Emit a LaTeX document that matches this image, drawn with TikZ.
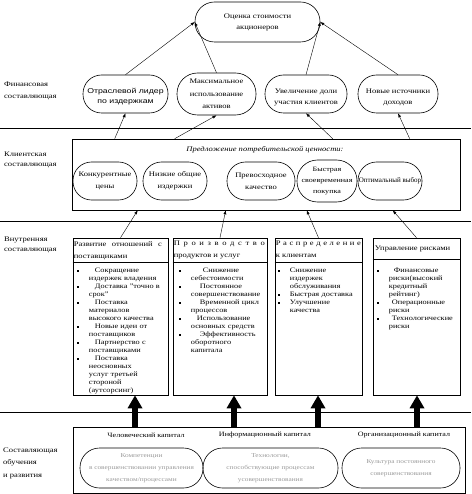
\documentclass[tikz,border=0pt]{standalone}
\usepackage{fontspec}
\setmainfont{Liberation Serif}[FakeStretch=1.22]
\newfontfamily\arialf{Liberation Sans}[FakeStretch=1.25]
\newfontfamily\narrowf{Liberation Serif}
\usetikzlibrary{arrows.meta,calc}
\newcommand\bitem[2][6pt]{\par\noindent\hangindent=15pt\hangafter=1\makebox[15pt][l]{\hspace{3pt}\rule[1pt]{1.7pt}{1.7pt}}\hspace{#1}#2\par}
\begin{document}
\begin{tikzpicture}[x=1pt,y=-1pt,
  txt/.style={inner sep=0pt, align=center, font=\fontsize{7}{11}\selectfont},
  stad/.style={draw, rectangle, rounded corners=#1, inner sep=0pt, line width=0.6pt},
  arr/.style={-{Latex[length=4pt,width=3pt]}, line width=0.4pt},
  big/.style={line width=6pt, -{Triangle[length=13pt,width=14pt]}},
  sepline/.style={line width=0.6pt},
  boxx/.style={draw, line width=0.6pt, inner sep=0pt},
  lbl/.style={inner sep=0pt, align=left, anchor=west, font=\fontsize{7}{11}\selectfont},
  head/.style={inner sep=0pt, align=left, anchor=north west, font=\fontsize{7}{12}\selectfont},
  lst/.style={inner sep=0pt, align=left, anchor=north west, font=\fontsize{6.8}{8}\selectfont},
  gtxt/.style={inner sep=0pt, align=center, text=black!40, font=\fontsize{6}{12}\selectfont},
  captxt/.style={inner sep=0pt, align=center, font=\fontsize{6.6}{8}\selectfont}
]
\useasboundingbox (0,0) rectangle (471,494);

% separator lines
\draw[sepline] (0,128) -- (471,128);
\draw[sepline] (0,221) -- (471,221);
\draw[sepline] (0,412) -- (471,412);

% left labels
\node[lbl, font=\fontsize{7}{12}\selectfont] (lab1) at (4,91) {Финансовая\\составляющая};
\node[lbl, font=\fontsize{7}{10}\selectfont] (lab2) at (4,160) {Клиентская\\составляющая};
\node[lbl, font=\fontsize{7}{10}\selectfont] (lab3) at (4,245) {Внутренняя\\составляющая};
\node[lbl, font=\fontsize{7}{12.5}\selectfont] (lab4) at (3,463) {Составляющая\\обучения\\и развития};

% top
\node[stad=19.5, minimum width=125, minimum height=40] (top) at (257.5,22) {};
\node[txt] (topt) at (top.center) {Оценка стоимости\\акционеров};

% financial
\node[stad=18.5, minimum width=85, minimum height=38] (f1) at (125.5,94) {};
\node[txt, font=\arialf\fontsize{7}{10}\selectfont] (f1t) at (125.5,97) {Отраслевой лидер\\по издержкам};
\node[stad=20.5, minimum width=79, minimum height=42] (f2) at (216.5,94) {};
\node[txt, font=\fontsize{7}{12.5}\selectfont] (f2t) at (f2.center) {Максимальное\\использование\\активов};
\node[stad=18.5, minimum width=82, minimum height=38] (f3) at (306,94) {};
\node[txt] (f3t) at (306,97) {Увеличение доли\\участия клиентов};
\node[stad=18.5, minimum width=80, minimum height=38] (f4) at (398,94) {};
\node[txt] (f4t) at (398,97) {Новые источники\\доходов};

\draw[arr] (f1.north) -- (top.west);
\draw[arr] (f2.north) -- (top.west);
\draw[arr] (f3.north) -- (top.east);
\draw[arr] (f4.north) -- (top.east);

% customer
\node[boxx, minimum width=388, minimum height=71] (cbox) at (266,174.5) {};
\node[txt, font=\itshape\fontsize{7}{9}\selectfont] (cval) at (265,150) {Предложение потребительской ценности:};
\node[stad=18.5, minimum width=64, minimum height=38] (c1) at (105,181) {};
\node[txt, font=\fontsize{7}{12}\selectfont] (c1t) at (c1.center) {Конкурентные\\цены};
\node[stad=18.5, minimum width=64, minimum height=38] (c2) at (175,181) {};
\node[txt, font=\fontsize{7}{12}\selectfont] (c2t) at (c2.center) {Низкие общие\\издержки};
\node[stad=18.5, minimum width=68, minimum height=38] (c3) at (261,181) {};
\node[txt, font=\fontsize{7}{12}\selectfont] (c3t) at (c3.center) {Превосходное\\качество};
\node[stad=20.5, minimum width=60, minimum height=42] (c4) at (327,181) {};
\node[txt, font=\fontsize{6.6}{11}\selectfont] (c4t) at (c4.center) {Быстрая\\своевременная\\покупка};
\node[stad=18.5, minimum width=64, minimum height=38] (c5) at (390,181) {};
\node[txt, font=\narrowf\fontsize{7}{9}\selectfont] (c5t) at (c5.center) {Оптимальный выбор};

\draw[arr] ([xshift=43pt]cbox.north west) -- (f1.south);
\draw[arr] ([xshift=103pt]cbox.north west) -- (f2.south);
\draw[arr] ([xshift=261pt]cbox.north west) -- (f3.south);
\draw[arr] ([xshift=338pt]cbox.north west) -- (f4.south);

% internal boxes
\node[boxx, minimum width=95, minimum height=157] (ib1) at (120.5,316.5) {};
\node[boxx, minimum width=94, minimum height=157] (ib2) at (220,316.5) {};
\node[boxx, minimum width=87, minimum height=157] (ib3) at (318.5,316.5) {};
\node[boxx, minimum width=87, minimum height=157] (ib4) at (416.5,316.5) {};

\draw[line width=0.5pt] ($(ib1.north west)+(0,25)$) -- ($(ib1.north east)+(0,25)$);
\draw[line width=0.5pt] ($(ib2.north west)+(0,25)$) -- ($(ib2.north east)+(0,25)$);
\draw[line width=0.5pt] ($(ib3.north west)+(0,25)$) -- ($(ib3.north east)+(0,25)$);
\draw[line width=0.5pt] ($(ib4.north west)+(0,22)$) -- ($(ib4.north east)+(0,22)$);

\node[head] (h1) at ($(ib1.north west)+(1,3.5)$) {\makebox[88pt][s]{Развитие отношений с}\\поставщиками};
\node[head] (h2) at ($(ib2.north west)+(1,3.5)$) {\makebox[91pt][s]{П р о и з в о д с т в о}\\продуктов и услуг};
\node[head] (h3) at ($(ib3.north west)+(1,3.5)$) {\makebox[85pt][s]{Р а с п р е д е л е н и е}\\к клиентам};
\node[head] (h4) at ($(ib4.north west)+(2,8.5)$) {Управление рисками};

\node[lst, text width=93pt] (l1) at ($(ib1.north west)+(1,27)$) {%
\bitem{Сокращение\newline издержек владения}%
\bitem{Доставка "точно в\newline срок"}%
\bitem{Поставка\newline материалов\newline высокого качества}%
\bitem{Новые идеи от\newline поставщиков}%
\bitem{Партнерство с\newline поставщиками}%
\bitem{Поставка\newline неосновных\newline услуг третьей\newline стороной\newline (аутсорсинг)}};
\node[lst, text width=92pt] (l2) at ($(ib2.north west)+(3,27)$) {%
\bitem[12pt]{Снижение\newline себестоимости}%
\bitem[9pt]{Постоянное\newline совершенствование}%
\bitem[9pt]{Временной цикл\newline процессов}%
\bitem[6pt]{Использование\newline основных средств}%
\bitem[9pt]{Эффективность\newline оборотного\newline капитала}};
\node[lst, text width=88pt] (l3) at ($(ib3.north west)+(0,27)$) {%
\bitem[0pt]{Снижение\newline издержек\newline обслуживания}%
\bitem[0pt]{Быстрая доставка}%
\bitem[0pt]{Улучшение\newline качества}};
\node[lst, text width=88pt] (l4) at ($(ib4.north west)+(1,27)$) {%
\bitem[5pt]{Финансовые\newline риски(высокий\newline кредитный\newline рейтинг)}%
\bitem[3pt]{Операционные\newline риски}%
\bitem[3pt]{Технологические\newline риски}};

\draw[arr] (ib1.north) -- ([xshift=66pt]cbox.south west);
\draw[arr] (ib2.north) -- ([xshift=154pt]cbox.south west);
\draw[arr] (ib3.north) -- ([xshift=235pt]cbox.south west);
\draw[arr] (ib4.north) -- ([xshift=321pt]cbox.south west);

% learning
\node[boxx, minimum width=392, minimum height=66] (lbox) at (269,460) {};
\node[captxt] (k1) at (146,435) {Человеческий капитал};
\node[captxt] (k2) at (265,435) {Информационный капитал};
\node[captxt] (k3) at (404,435) {Организационный капитал};
\node[stad=19.5, minimum width=123, minimum height=40] (e1) at (141.5,468) {};
\node[gtxt] (e1t) at (e1.center) {Компетенции\\в совершенствовании управления\\качеством/процессами};
\node[stad=19.5, minimum width=135, minimum height=40] (e2) at (270.5,468) {};
\node[gtxt] (e2t) at (e2.center) {Технологии,\\способствующие процессам\\усовершенствования};
\node[stad=19.5, minimum width=118, minimum height=40] (e3) at (401,468) {};
\node[gtxt] (e3t) at (e3.center) {Культура постоянного\\совершенствования};

\coordinate (a1) at (135,427);
\coordinate (a2) at (234,427);
\coordinate (a3) at (318,427);
\coordinate (a4) at (417,427);
\draw[big] (a1) -- (a1 |- ib1.south);
\draw[big] (a2) -- (a2 |- ib2.south);
\draw[big] (a3) -- (a3 |- ib3.south);
\draw[big] (a4) -- (a4 |- ib4.south);
\end{tikzpicture}
\end{document}
